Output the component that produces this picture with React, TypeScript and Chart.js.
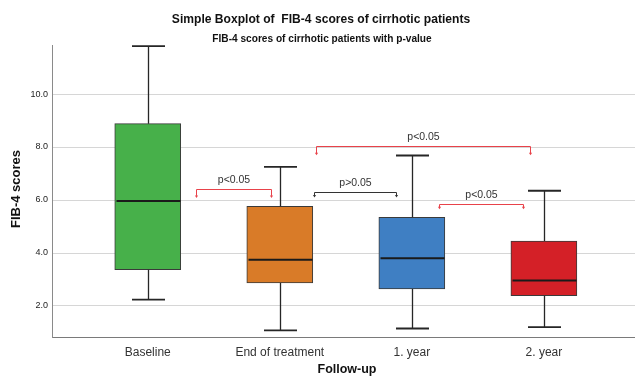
import React, { useEffect, useRef } from 'react';
import { Chart, registerables } from 'chart.js';

Chart.register(...registerables);

const categories = ['Baseline', 'End of treatment', '1. year', '2. year'];
const whiskerLow = [2.24, 1.08, 1.15, 1.2];
const q1 = [3.37, 2.87, 2.64, 2.39];
const median = [5.96, 3.75, 3.8, 2.96];
const q3 = [8.88, 5.76, 5.35, 4.45];
const whiskerHigh = [11.81, 7.25, 7.68, 6.35];
const boxColors = ['#47b04a', '#d97b28', '#3f7fc3', '#d42027'];

const bracketFrom = [0.364, 1.258, 1.277, 2.207];
const bracketTo = [0.934, 1.88, 2.894, 2.845];
const bracketTop = [6.43, 6.3, 8.05, 5.84];
const bracketTip = [6.08, 6.09, 7.69, 5.65];
const bracketLabels = ['p<0.05', 'p>0.05', 'p<0.05', 'p<0.05'];
const bracketColors = ['#e8424a', '#333333', '#e8424a', '#e8424a'];

const yTicks = [2, 4, 6, 8, 10];

const titleText = 'Simple Boxplot of  FIB-4 scores of cirrhotic patients';
const subtitleText = 'FIB-4 scores of cirrhotic patients with p-value';
const yTitle = 'FIB-4 scores';
const xTitle = 'Follow-up';

const FONT = '"Liberation Sans", Arial, sans-serif';

function drawText(ctx: CanvasRenderingContext2D, text: string, cx: number, cy: number, font: string, sx: number, rot = 0) {
  ctx.save();
  ctx.font = font;
  ctx.fillStyle = '#111';
  ctx.translate(cx, cy);
  if (rot) ctx.rotate(rot);
  ctx.scale(sx, 1);
  ctx.textAlign = 'center';
  ctx.textBaseline = 'middle';
  ctx.fillText(text, 0, 0);
  ctx.restore();
}

const boxPlugin = {
  id: 'boxExtras',
  afterDatasetsDraw(chart: any) {
    const { ctx } = chart;
    const x = chart.scales.x;
    const y = chart.scales.y;
    const meta = chart.getDatasetMeta(0);
    ctx.save();
    categories.forEach((_, i) => {
      const px = Math.round(x.getPixelForValue(i)) + 0.5;
      const bar = meta.data[i];
      const half = bar.width / 2;
      const cap = bar.width / 4;
      ctx.strokeStyle = '#262626';
      ctx.lineWidth = 1.3;
      ctx.beginPath();
      ctx.moveTo(px, y.getPixelForValue(q3[i]));
      ctx.lineTo(px, y.getPixelForValue(whiskerHigh[i]));
      ctx.moveTo(px, y.getPixelForValue(q1[i]));
      ctx.lineTo(px, y.getPixelForValue(whiskerLow[i]));
      ctx.stroke();
      ctx.lineWidth = 1.8;
      ctx.beginPath();
      [whiskerHigh[i], whiskerLow[i]].forEach((v) => {
        const py = y.getPixelForValue(v);
        ctx.moveTo(px - cap, py);
        ctx.lineTo(px + cap, py);
      });
      ctx.stroke();
      ctx.lineWidth = 2;
      ctx.strokeStyle = '#1a1a1a';
      const my = y.getPixelForValue(median[i]);
      ctx.beginPath();
      ctx.moveTo(px - half + 1, my);
      ctx.lineTo(px + half - 1, my);
      ctx.stroke();
    });

    bracketLabels.forEach((label, i) => {
      const x1 = Math.round(x.getPixelForValue(bracketFrom[i])) + 0.5;
      const x2 = Math.round(x.getPixelForValue(bracketTo[i])) + 0.5;
      const yt = Math.round(y.getPixelForValue(bracketTop[i])) + 0.5;
      const yb = y.getPixelForValue(bracketTip[i]);
      ctx.strokeStyle = bracketColors[i];
      ctx.fillStyle = bracketColors[i];
      ctx.lineWidth = 1;
      ctx.beginPath();
      ctx.moveTo(x1, yb - 2);
      ctx.lineTo(x1, yt);
      ctx.lineTo(x2, yt);
      ctx.lineTo(x2, yb - 2);
      ctx.stroke();
      [x1, x2].forEach((xx) => {
        ctx.beginPath();
        ctx.moveTo(xx - 1.6, yb - 2.5);
        ctx.lineTo(xx + 1.6, yb - 2.5);
        ctx.lineTo(xx, yb);
        ctx.closePath();
        ctx.fill();
      });
      ctx.font = '10.5px ' + FONT;
      ctx.fillStyle = '#333';
      ctx.textAlign = 'center';
      ctx.textBaseline = 'middle';
      ctx.fillText(label, (x1 + x2) / 2, yt - 9);
    });
    ctx.restore();
  },
  afterDraw(chart: any) {
    const { ctx } = chart;
    drawText(ctx, titleText, 321, 19, 'bold 13px ' + FONT, 0.93);
    drawText(ctx, subtitleText, 322, 38.5, 'bold 11px ' + FONT, 0.92);
    drawText(ctx, yTitle, 16, 189, 'bold 13px ' + FONT, 1, -Math.PI / 2);
    drawText(ctx, xTitle, 347, 370, 'bold 12.5px ' + FONT, 1);
  },
};

export default function App() {
  const ref = useRef<HTMLCanvasElement>(null);
  useEffect(() => {
    if (!ref.current) return;
    const chart = new Chart(ref.current, {
      type: 'bar',
      data: {
        datasets: [
          {
            data: categories.map((_, i) => ({ x: i, y: [q1[i], q3[i]] })) as any,
            backgroundColor: boxColors,
            borderColor: '#3a3a3a',
            borderWidth: 1,
            borderSkipped: false,
            barThickness: 66,
          },
        ],
      },
      options: {
        animation: false,
        responsive: false,
        layout: { padding: { top: 45, left: 0, right: 0, bottom: 0 } },
        plugins: {
          legend: { display: false },
          title: { display: false },
          tooltip: { enabled: false },
        },
        scales: {
          x: {
            type: 'linear',
            min: -0.725,
            max: 3.69,
            offset: false,
            grid: { display: false, drawTicks: false, offset: false },
            border: { display: true, color: '#7a7a7a', width: 1 },
            afterBuildTicks: (scale: any) => {
              scale.ticks = categories.map((_, i) => ({ value: i }));
            },
            afterFit: (scale: any) => {
              scale.height = 43;
            },
            ticks: {
              autoSkip: false,
              maxRotation: 0,
              padding: 8,
              color: '#333',
              font: { family: FONT, size: 12 },
              callback: (v: any) => categories[v] ?? '',
            },
          },
          y: {
            type: 'linear',
            min: 0.83,
            max: 11.85,
            grid: { color: '#d6d6d6', lineWidth: 1, drawTicks: false },
            border: { display: true, color: '#8a8a8a', width: 1 },
            afterBuildTicks: (scale: any) => {
              scale.ticks = yTicks.map((v) => ({ value: v }));
            },
            afterFit: (scale: any) => {
              scale.width = 52;
            },
            ticks: {
              padding: 4,
              color: '#222',
              font: { family: FONT, size: 9 },
              callback: (v: any) => Number(v).toFixed(1),
            },
          },
        },
      },
      plugins: [boxPlugin],
    });
    return () => chart.destroy();
  }, []);
  return (
    <div style={{ position: 'absolute', left: 0, top: 0, width: 635, height: 380, background: '#fff' }}>
      <canvas ref={ref} width={635} height={380} />
    </div>
  );
}
